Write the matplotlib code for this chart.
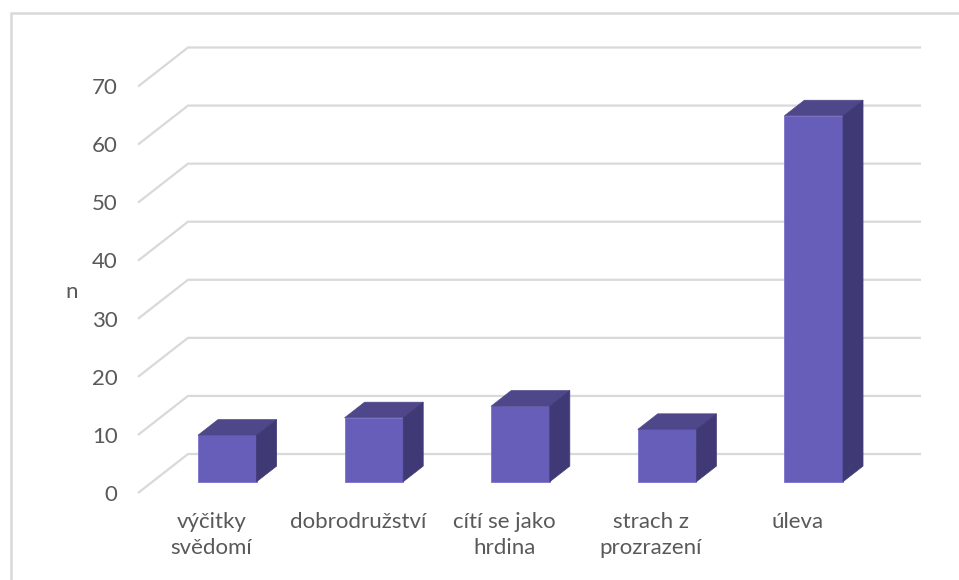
import matplotlib
matplotlib.use('Agg')
import matplotlib.pyplot as plt
from matplotlib.patches import Polygon, Rectangle

categories = ['výčitky\nsvědomí', 'dobrodružství', 'cítí se jako\nhrdina',
              'strach z\nprozrazení', 'úleva']
values = [8, 11, 13, 9, 63]
y_ticks = [0, 10, 20, 30, 40, 50, 60, 70]
y_label = 'n'

FRONT = '#665EB8'
TOP = '#4E4789'
SIDE = '#3F3A75'
EDGE = '#7A72C8'
GRID = '#D9D9D9'
TEXT = '#595959'

plt.rcParams['font.family'] = ['Lato', 'DejaVu Sans']

W, H = 959, 580
fig = plt.figure(figsize=(W / 100, H / 100), dpi=100)

# axes = front edge of the floor / front plane of the fake 3d box
ax = fig.add_axes([138 / W, 87 / H, 733 / W, 406.5 / H])
n = len(categories)
ax.set_xlim(0, n)
ax.set_ylim(0, 70)
ax.axis('off')

# depth of the box in data units
depth_x = 50 / 733 * n
depth_y = 39 / 406.5 * 70

# gridlines: diagonal on the left side wall, then along the back wall
for v in y_ticks:
    ax.plot([0, depth_x, n + depth_x], [v, v + depth_y, v + depth_y],
            color=GRID, lw=1.6, clip_on=False, zorder=1,
            solid_capstyle='butt')
    ax.text(-0.14, v - 0.3, str(v), ha='right', va='center', fontsize=16,
            color=TEXT)

# bars
bar_w = 0.40
d0, d1 = 0.32, 0.72
ddx = (d1 - d0) * depth_x
ddy = (d1 - d0) * depth_y
for i, v in enumerate(values):
    cx = i + 0.5 + d0 * depth_x
    y0 = d0 * depth_y - 0.2
    x0, x1 = cx - bar_w / 2, cx + bar_w / 2
    y1 = y0 + v
    ax.bar(cx, v, width=bar_w, bottom=y0, color=FRONT, edgecolor=EDGE,
           lw=0.6, zorder=3, clip_on=False)
    top = Polygon([(x0, y1), (x1, y1), (x1 + ddx, y1 + ddy), (x0 + ddx, y1 + ddy)],
                  closed=True, fc=TOP, ec=TOP, lw=0.5, zorder=3, clip_on=False)
    side = Polygon([(x1, y0), (x1 + ddx, y0 + ddy), (x1 + ddx, y1 + ddy), (x1, y1)],
                   closed=True, fc=SIDE, ec=SIDE, lw=0.5, zorder=3, clip_on=False)
    ax.add_patch(top)
    ax.add_patch(side)

# category labels
for i, c in enumerate(categories):
    ax.text(i + 0.5, -3.2, c, ha='center', va='top', fontsize=16,
            color=TEXT, linespacing=1.4)

fig.text(72 / W, 1 - 292 / H, y_label, ha='center', va='center',
         fontsize=16, color=TEXT)

# chart area border (only top and left visible)
fig.patches.append(Rectangle((10.5 / W, -0.2), 1.5, 1 - 12.5 / H + 0.2,
                             transform=fig.transFigure, fill=False,
                             ec=GRID, lw=1.8))

fig.savefig('out.png', dpi=100)
